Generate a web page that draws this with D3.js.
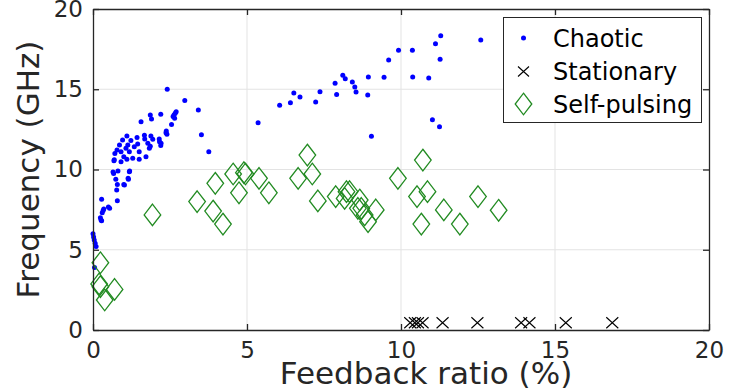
<!DOCTYPE html>
<html><head><meta charset="utf-8">
<script src="https://cdn.jsdelivr.net/npm/d3@7"></script>
<style>body{margin:0;background:#fff}svg{display:block}text{font-family:"DejaVu Sans",sans-serif}</style>
</head><body>
<script>
const xTicks=[0,5,10,15,20];
const yTicks=[0,5,10,15,20];
const xLabel="Feedback ratio (%)";
const yLabel="Frequency (GHz)";
const legendLabels=["Chaotic","Stationary","Self-pulsing"];
const chaoticX=[0.0,0.02,0.04,0.07,0.1,0.05,0.24,0.26,0.28,0.3,0.33,0.35,0.28,0.5,0.54,0.77,0.79,0.74,0.79,1.0,1.15,1.14,1.02,0.65,0.67,0.81,1.19,1.18,0.69,0.68,0.91,1.0,1.1,1.29,1.5,1.72,0.71,0.78,0.86,0.91,1.07,1.13,1.18,1.34,1.45,1.5,0.96,1.1,1.23,1.43,1.67,1.68,1.78,1.83,1.88,1.94,2.16,2.21,2.15,2.2,2.37,2.38,2.4,1.86,1.56,1.86,1.9,2.2,2.55,2.6,2.63,2.67,2.7,2.65,2.41,2.98,3.42,3.52,3.76,5.36,6.06,6.41,6.52,6.72,7.23,7.37,7.86,7.91,8.11,8.19,8.42,8.5,8.54,8.92,8.94,9.04,9.45,9.6,9.92,10.37,10.38,10.9,11.12,11.29,11.27,11.02,11.25,12.59];
const chaoticY=[6.0,5.8,5.6,5.4,5.2,3.9,7.0,6.85,6.8,7.3,7.45,7.54,8.14,7.67,7.58,8.72,8.06,9.4,9.06,9.06,9.39,9.45,9.03,9.85,9.75,9.9,9.9,9.86,10.6,10.55,10.49,10.8,10.64,10.7,10.64,10.8,11.0,11.21,11.53,11.11,11.32,11.53,11.11,11.42,11.59,11.11,11.84,12.09,11.8,12.0,12.13,11.9,11.63,11.32,12.09,11.88,11.73,11.63,11.9,11.5,12.29,12.4,12.2,11.45,12.98,13.4,13.15,13.44,12.8,13.3,13.4,13.5,13.6,13.2,15.0,14.3,13.7,12.17,11.1,12.92,14.0,14.16,14.77,14.52,14.2,14.85,15.37,14.68,15.87,15.66,15.45,15.14,14.83,14.64,15.76,12.07,15.74,16.82,17.43,17.43,15.76,15.7,17.84,18.34,16.87,13.1,12.67,18.07];
const stationaryX=[10.3,10.45,10.55,10.7,11.35,12.48,13.9,14.17,15.35,16.86];
const stationaryY=[0.45,0.45,0.45,0.45,0.45,0.45,0.45,0.45,0.45,0.45];
const pulsingX=[0.24,0.2,0.24,0.7,0.38,1.93,3.38,3.97,3.9,4.22,4.55,4.74,4.95,4.9,5.39,5.71,6.66,6.96,7.12,7.3,7.88,8.17,8.33,8.66,8.71,8.82,8.93,9.18,8.23,8.6,9.9,10.71,10.52,10.86,10.66,11.39,11.91,12.5,13.17];
const pulsingY=[4.19,2.87,2.7,2.53,1.87,7.17,8.0,9.14,7.41,6.6,9.72,8.55,9.72,9.8,9.45,8.55,9.45,10.9,9.72,8.04,8.31,8.2,8.62,8.1,7.58,7.17,6.75,7.48,8.62,7.58,9.45,10.59,8.31,8.62,6.6,7.48,6.6,8.31,7.46];

const W=729,H=391,m={l:93,t:9,r:20,b:61};
const iw=W-m.l-m.r, ih=H-m.t-m.b;
const axisCol="#262626";
const svg=d3.select("body").append("svg").attr("width",W).attr("height",H);
const x=d3.scaleLinear().domain([0,20]).range([0,iw]);
const y=d3.scaleLinear().domain([0,20]).range([ih,0]);
const g=svg.append("g").attr("transform",`translate(${m.l},${m.t})`);

// grid
g.append("g").selectAll("line").data(xTicks.slice(1,-1)).join("line")
 .attr("x1",d=>x(d)).attr("x2",d=>x(d)).attr("y1",0).attr("y2",ih).attr("stroke","#e3e3e3").attr("stroke-width",1);
g.append("g").selectAll("line").data(yTicks.slice(1,-1)).join("line")
 .attr("y1",d=>y(d)).attr("y2",d=>y(d)).attr("x1",0).attr("x2",iw).attr("stroke","#e3e3e3").attr("stroke-width",1);

// chaotic
const chaotic=chaoticX.map((v,i)=>[v,chaoticY[i]]);
g.append("g").selectAll("circle").data(chaotic).join("circle")
 .attr("cx",d=>x(d[0])).attr("cy",d=>y(d[1])).attr("r",2.5).attr("fill","#0000ff");
// stationary
const stat=stationaryX.map((v,i)=>[v,stationaryY[i]]);
const cross=(sel,hx,hy)=>sel.append("path").attr("d",`M${-hx},${-hy}L${hx},${hy}M${-hx},${hy}L${hx},${-hy}`).attr("stroke","#000").attr("stroke-width",1.1).attr("fill","none");
g.append("g").selectAll("g").data(stat).join("g")
 .attr("transform",d=>`translate(${x(d[0])},${y(d[1])})`).each(function(){cross(d3.select(this),6,5.5);});
// self-pulsing
const puls=pulsingX.map((v,i)=>[v,pulsingY[i]]);
const diamond=(hx,hy)=>`M0,${-hy}L${hx},0L0,${hy}L${-hx},0Z`;
g.append("g").selectAll("path").data(puls).join("path")
 .attr("transform",d=>`translate(${x(d[0])},${y(d[1])})`).attr("d",diamond(8.3,10.8))
 .attr("fill","none").attr("stroke","#228b22").attr("stroke-width",1.3);

// axes
const fmt=d3.format("d");
const ax=g.append("g").attr("transform",`translate(0,${ih})`).call(d3.axisBottom(x).tickValues(xTicks).tickFormat(fmt).tickSizeInner(-6).tickSizeOuter(0).tickPadding(12));
const axT=g.append("g").call(d3.axisTop(x).tickValues(xTicks).tickFormat("").tickSizeInner(-6).tickSizeOuter(0));
const ay=g.append("g").call(d3.axisLeft(y).tickValues(yTicks).tickFormat(fmt).tickSizeInner(-6).tickSizeOuter(0).tickPadding(10));
const ayR=g.append("g").attr("transform",`translate(${iw},0)`).call(d3.axisRight(y).tickValues(yTicks).tickFormat("").tickSizeInner(-6).tickSizeOuter(0));
[ax,axT,ay,ayR].forEach(a=>{a.select(".domain").attr("stroke",axisCol).attr("stroke-width",1.3);a.selectAll(".tick line").attr("stroke",axisCol).attr("stroke-width",1.3);
 a.selectAll("text").attr("fill",axisCol).style("font-size","23px").style("font-family","DejaVu Sans");});
ax.selectAll("text").attr("dy","0.71em");

// labels
svg.append("text").attr("x",426).attr("y",384).attr("text-anchor","middle").attr("fill",axisCol).style("font-size","31px").text(xLabel);
svg.append("text").attr("transform",`translate(39,${m.t+ih/2}) rotate(-90)`).attr("text-anchor","middle").attr("fill",axisCol).style("font-size","31px").text(yLabel);

// legend
const lg=svg.append("g");
lg.append("rect").attr("x",503.5).attr("y",17.5).attr("width",198).attr("height",105).attr("fill","#fff").attr("stroke",axisCol).attr("stroke-width",1);
const ly=[38,71.5,104];
lg.append("circle").attr("cx",523.5).attr("cy",ly[0]).attr("r",2.5).attr("fill","#0000ff");
cross(lg.append("g").attr("transform",`translate(523.5,${ly[1]})`),5.5,5);
lg.append("path").attr("transform",`translate(523.5,${ly[2]})`).attr("d",diamond(8.3,10.8)).attr("fill","none").attr("stroke","#228b22").attr("stroke-width",1.3);
lg.selectAll("text.l").data(legendLabels).join("text").attr("class","l").attr("x",553).attr("y",(d,i)=>ly[i]).attr("dy","0.36em")
 .attr("fill","#000").style("font-size","24px").text(d=>d);
</script>
</body></html>
